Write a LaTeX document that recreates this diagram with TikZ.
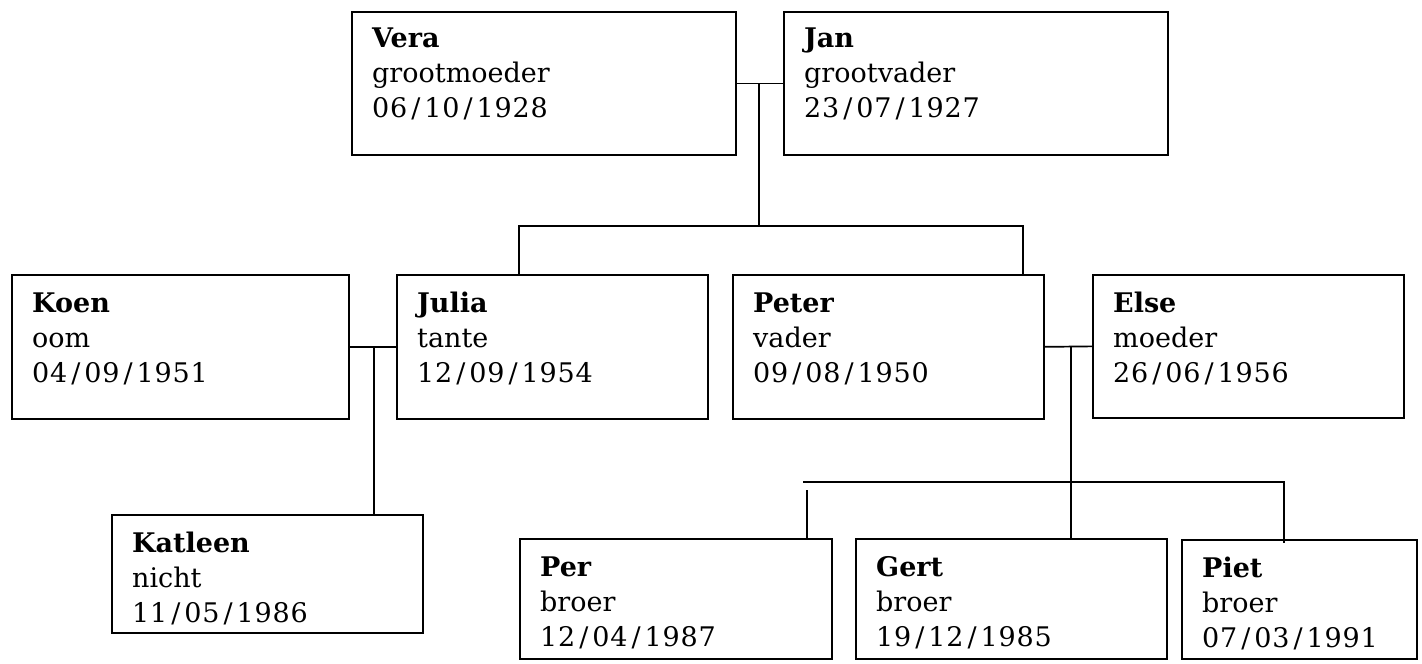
\documentclass[tikz,border=0pt]{standalone}
\usepackage{fontspec}
\setmainfont{DejaVu Serif}
\newcommand\dsl{\kern4pt/\kern4pt}
\newcommand\fdate[1]{{\addfontfeature{LetterSpace=3}#1}}
\usetikzlibrary{calc}
\begin{document}
\begin{tikzpicture}[x=1pt,y=-1pt,
  pbox/.style={draw, line width=1.7pt, rectangle, inner sep=0pt, anchor=north west},
  ptext/.style={anchor=north west, inner sep=0pt, align=left, font=\fontsize{27}{35}\selectfont},
  link/.style={line width=1.7pt}]
\useasboundingbox (0,0) rectangle (1422,664);
% boxes
\node[pbox, minimum width=384, minimum height=143] (vera) at (351,11) {};
\node[pbox, minimum width=384, minimum height=143] (jan) at (783,11) {};
\node[pbox, minimum width=337, minimum height=144] (koen) at (11,274) {};
\node[pbox, minimum width=311, minimum height=144] (julia) at (396,274) {};
\node[pbox, minimum width=311, minimum height=144] (peter) at (732,274) {};
\node[pbox, minimum width=311, minimum height=143] (else) at (1092,274) {};
\node[pbox, minimum width=311, minimum height=118] (katleen) at (111,514) {};
\node[pbox, minimum width=312, minimum height=120] (per) at (519,538) {};
\node[pbox, minimum width=311, minimum height=120] (gert) at (855,538) {};
\node[pbox, minimum width=235, minimum height=119] (piet) at (1181,539) {};
% texts
\node[ptext] (vera-t) at ([shift={(21,12)}]vera.north west) {\strut\textbf{Vera}\\grootmoeder\\\fdate{06\dsl10\dsl1928}};
\node[ptext] (jan-t) at ([shift={(21,12)}]jan.north west) {\strut\textbf{Jan}\\grootvader\\\fdate{23\dsl07\dsl1927}};
\node[ptext] (koen-t) at ([shift={(21,14)}]koen.north west) {\strut\textbf{Koen}\\oom\\\fdate{04\dsl09\dsl1951}};
\node[ptext] (julia-t) at ([shift={(21,14)}]julia.north west) {\strut\textbf{Julia}\\tante\\\fdate{12\dsl09\dsl1954}};
\node[ptext] (peter-t) at ([shift={(21,14)}]peter.north west) {\strut\textbf{Peter}\\vader\\\fdate{09\dsl08\dsl1950}};
\node[ptext] (else-t) at ([shift={(21,14)}]else.north west) {\strut\textbf{Else}\\moeder\\\fdate{26\dsl06\dsl1956}};
\node[ptext] (katleen-t) at ([shift={(21,14)}]katleen.north west) {\strut\textbf{Katleen}\\nicht\\\fdate{11\dsl05\dsl1986}};
\node[ptext] (per-t) at ([shift={(21,14)}]per.north west) {\strut\textbf{Per}\\broer\\\fdate{12\dsl04\dsl1987}};
\node[ptext] (gert-t) at ([shift={(21,14)}]gert.north west) {\strut\textbf{Gert}\\broer\\\fdate{19\dsl12\dsl1985}};
\node[ptext] (piet-t) at ([shift={(21,14)}]piet.north west) {\strut\textbf{Piet}\\broer\\\fdate{07\dsl03\dsl1991}};
% junction coordinates
\coordinate (vj) at ($(vera.east)!0.5!(jan.west)$);
\coordinate (c1) at (759,226);
\coordinate (kj) at (374,346);
\coordinate (pe) at (1071,346);
\coordinate (sl) at (803,482);
\coordinate (sr) at (1284,482);
\coordinate (pt) at (1284,543);
\coordinate (pq) at (807,490);
% connectors
\draw[link] (vera.east) -- (jan.west);
\draw[link] (c1 |- vj) -- (c1);
\draw[link] ([xshift=-33.5]julia.north) |- (c1) -| ([xshift=134.5]peter.north);
\draw[link] (koen.east) -- (julia.west);
\draw[link] (kj) -- (kj |- katleen.north);
\draw[link] (peter.east) -- (else.west);
\draw[link] (pe) -- (pe |- gert.north);
\draw[link] (sl) -- (sr) -- (pt);
\draw[link] (pq) -- (pq |- per.north);
\end{tikzpicture}
\end{document}
